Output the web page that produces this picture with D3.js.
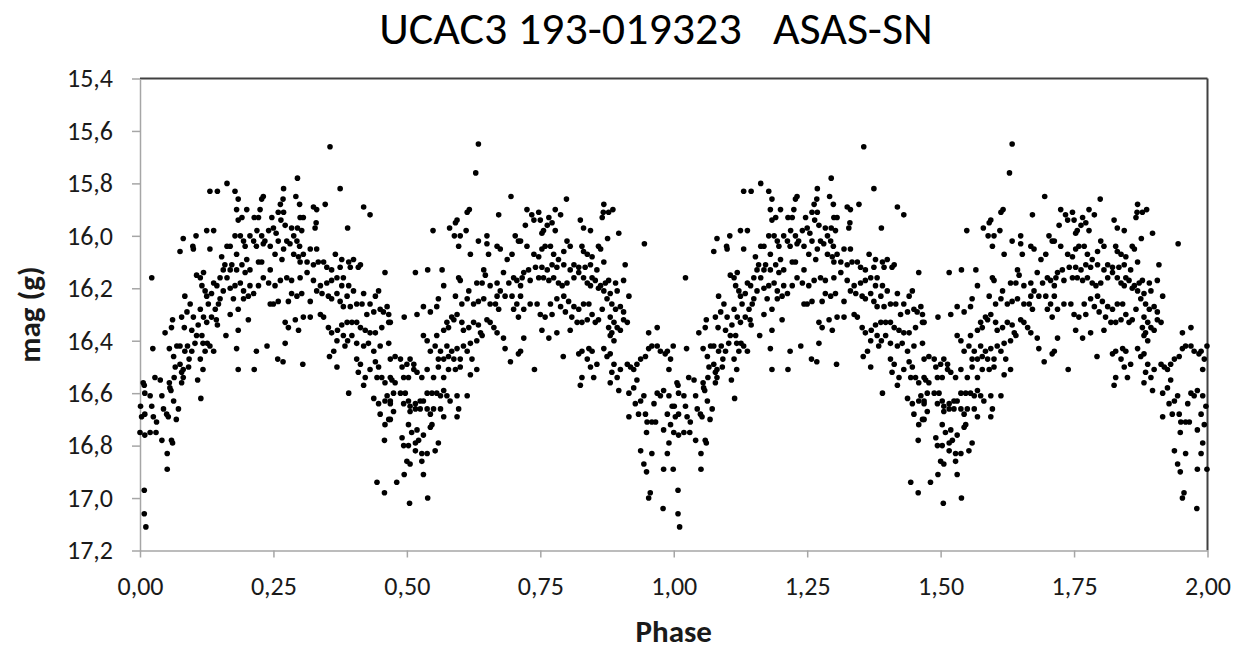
<!DOCTYPE html>
<html>
<head>
<meta charset="utf-8">
<script src="https://cdn.jsdelivr.net/npm/d3@7"></script>
<style>
  body { margin: 0; background: #fff; }
  svg { display: block; }
</style>
</head>
<body>
<div id="chart"></div>
<script>
//chart text
const chartTitle = "UCAC3 193-019323   ASAS-SN";
const xTitle = "Phase";
const yTitle = "mag (g)";

//tick values on both axes
const xTicks = [0, 0.25, 0.5, 0.75, 1, 1.25, 1.5, 1.75, 2];
const yTicks = [15.4, 15.6, 15.8, 16.0, 16.2, 16.4, 16.6, 16.8, 17.0, 17.2];

//the folded light curve is shown twice: phase and phase + 1
const cycles = [0, 1];

const points = [
[0.006,16.56],[0.008,16.57],[0.009,16.60],[0.019,16.61],[0.001,16.65],[0.003,16.69],[0.009,16.68],[0.022,16.65],[0.028,16.54],[0.038,16.55],
[0.041,16.61],[0.025,16.69],[0.031,16.71],[0.000,16.75],[0.009,16.76],[0.019,16.75],[0.030,16.75],[0.041,16.78],[0.044,16.66],[0.050,16.68],
[0.053,16.69],[0.056,16.58],[0.058,16.59],[0.055,16.56],[0.063,16.63],[0.072,16.66],[0.068,16.70],[0.059,16.78],[0.061,16.79],[0.051,16.83],
[0.051,16.89],[0.008,16.97],[0.008,17.06],[0.011,17.11],[0.022,16.16],[0.024,16.43],[0.047,16.37],[0.055,16.43],[0.059,16.35],[0.061,16.32],
[0.063,16.46],[0.064,16.54],[0.066,16.50],[0.069,16.42],[0.075,16.49],[0.078,16.52],[0.081,16.51],[0.091,16.50],[0.092,16.47],[0.081,16.54],
[0.078,16.56],[0.114,16.62],[0.108,16.55],[0.118,16.51],
[0.075,16.06],[0.081,16.01],[0.099,16.04],[0.100,16.05],[0.105,16.00],[0.125,15.98],[0.138,15.98],[0.131,16.05],[0.113,16.16],[0.119,16.14],
[0.106,16.15],[0.116,16.19],[0.122,16.21],[0.125,16.23],[0.128,16.26],[0.134,16.22],[0.138,16.18],[0.144,16.19],[0.150,16.16],[0.147,16.26],
[0.141,16.28],[0.134,16.31],[0.145,16.34],[0.143,16.32],[0.125,16.33],[0.119,16.31],[0.109,16.34],[0.113,16.28],[0.100,16.31],[0.094,16.26],
[0.084,16.23],[0.088,16.29],[0.078,16.31],[0.083,16.35],[0.097,16.36],[0.106,16.38],[0.116,16.38],[0.103,16.41],[0.089,16.42],[0.075,16.42],
[0.084,16.44],[0.097,16.44],[0.113,16.47],[0.126,16.41],[0.131,16.42],[0.138,16.44],[0.122,16.44],[0.118,16.41],
[0.163,15.80],[0.131,15.83],[0.145,15.83],[0.178,15.83],[0.184,15.86],[0.181,15.90],[0.200,15.90],[0.191,15.93],[0.184,15.94],[0.214,15.93],
[0.222,15.93],[0.225,15.90],[0.161,16.38],[0.181,16.43],[0.184,16.51],[0.214,16.51],[0.218,16.44],[0.203,16.32],[0.184,16.36],
[0.153,16.08],[0.163,16.04],[0.169,16.04],[0.172,16.11],[0.178,16.00],[0.181,16.07],[0.188,16.00],[0.194,16.02],[0.197,16.04],[0.206,16.00],
[0.213,16.02],[0.219,15.98],[0.218,16.04],[0.222,16.10],[0.206,16.13],[0.197,16.14],[0.188,16.18],[0.178,16.19],[0.169,16.20],[0.163,16.16],
[0.156,16.13],[0.175,16.24],[0.169,16.30],[0.184,16.28],[0.194,16.24],[0.203,16.23],[0.213,16.22],[0.222,16.19],[0.194,16.21],[0.206,16.19],
[0.156,16.21],[0.150,16.24],[0.159,16.11],[0.169,16.13],[0.181,16.13],[0.191,16.11],[0.200,16.09],
[0.356,15.66],[0.295,15.78],[0.375,15.82],[0.419,15.89],[0.431,15.92],[0.389,15.97],[0.269,15.82],[0.268,15.86],[0.231,15.85],[0.228,15.86],
[0.292,15.85],[0.299,15.88],[0.325,15.89],[0.331,15.90],[0.347,15.88],[0.263,15.88],[0.259,15.91],[0.269,15.91],[0.247,15.93],[0.250,15.97],
[0.264,15.94],[0.255,15.99],[0.241,15.98],[0.234,16.02],[0.228,16.00],[0.272,15.96],[0.284,15.97],[0.295,15.97],[0.303,15.98],[0.300,15.93],
[0.306,15.93],[0.330,15.95],[0.328,15.97],[0.231,16.03],[0.244,16.04],[0.259,16.02],[0.269,16.05],[0.275,16.02],[0.281,16.03],[0.288,16.00],
[0.294,16.02],[0.266,16.09],[0.253,16.07],[0.288,16.07],[0.297,16.08],[0.306,16.07],[0.319,16.05],[0.331,16.05],[0.299,16.04],[0.300,16.10],
[0.313,16.10],[0.325,16.11],[0.334,16.10],[0.344,16.10],[0.350,16.12],[0.359,16.13],[0.366,16.07],[0.378,16.09],[0.391,16.10],[0.400,16.09],
[0.413,16.11],[0.409,16.12],[0.394,16.12],[0.375,16.12],[0.369,16.16],[0.381,16.16],[0.359,16.17],[0.350,16.18],[0.338,16.19],[0.325,16.17],
[0.313,16.14],[0.300,16.16],[0.284,16.17],[0.275,16.16],[0.263,16.17],[0.253,16.19],[0.241,16.18],[0.231,16.16],[0.244,16.13],[0.228,16.10],
[0.250,16.26],[0.259,16.25],[0.244,16.26],[0.284,16.22],[0.278,16.25],[0.294,16.23],[0.303,16.22],[0.319,16.25],[0.331,16.21],[0.341,16.22],
[0.353,16.23],[0.359,16.24],[0.369,16.22],[0.378,16.19],[0.391,16.19],[0.400,16.21],[0.388,16.23],[0.375,16.25],[0.381,16.27],[0.394,16.27],
[0.406,16.26],[0.416,16.26],[0.419,16.22],[0.431,16.26],[0.441,16.23],[0.447,16.21],[0.459,16.14],[0.450,16.28],[0.438,16.29],[0.425,16.30],
[0.456,16.29],[0.463,16.27],[0.466,16.30],[0.272,16.33],[0.278,16.35],[0.297,16.36],[0.291,16.32],[0.306,16.31],[0.319,16.31],[0.338,16.30],
[0.344,16.31],[0.353,16.35],[0.359,16.37],[0.370,16.36],[0.378,16.34],[0.388,16.33],[0.397,16.33],[0.406,16.33],[0.413,16.35],[0.422,16.36],
[0.431,16.37],[0.441,16.37],[0.453,16.35],[0.466,16.33],[0.238,16.42],[0.272,16.41],[0.258,16.47],[0.268,16.48],[0.305,16.49],[0.369,16.40],
[0.381,16.38],[0.389,16.40],[0.384,16.42],[0.397,16.38],[0.406,16.41],[0.419,16.42],[0.428,16.41],[0.438,16.44],[0.450,16.42],[0.466,16.41],
[0.363,16.44],[0.355,16.46],[0.369,16.50],[0.406,16.47],[0.413,16.49],[0.409,16.52],[0.422,16.54],[0.419,16.57],[0.431,16.51],[0.441,16.48],
[0.447,16.50],[0.444,16.54],[0.453,16.54],[0.459,16.56],[0.469,16.54],[0.391,16.60],[0.438,16.62],[0.447,16.64],[0.450,16.68],[0.459,16.63],
[0.463,16.61],[0.469,16.64],[0.459,16.72],[0.466,16.70],[0.458,16.78],[0.444,16.94],[0.458,16.98],
[0.634,15.65],[0.629,15.76],[0.695,15.85],[0.617,15.90],[0.613,15.91],[0.594,15.94],[0.591,15.95],[0.580,15.97],[0.549,15.98],[0.589,16.00],
[0.600,16.00],[0.611,15.98],[0.597,16.04],[0.619,16.07],[0.634,16.02],[0.650,16.00],[0.650,16.03],[0.653,16.07],[0.672,15.92],[0.669,16.04],
[0.675,16.05],[0.688,16.09],[0.697,16.07],[0.703,16.00],[0.709,16.02],[0.516,16.14],[0.539,16.13],[0.566,16.13],[0.569,16.19],[0.591,16.23],
[0.597,16.16],[0.600,16.17],[0.616,16.21],[0.631,16.18],[0.641,16.18],[0.647,16.15],[0.644,16.13],[0.656,16.19],[0.669,16.18],[0.681,16.14],
[0.691,16.18],[0.700,16.16],[0.706,16.17],[0.713,16.19],[0.697,16.23],[0.684,16.23],[0.675,16.21],[0.669,16.23],[0.666,16.26],[0.656,16.26],
[0.644,16.24],[0.634,16.25],[0.625,16.26],[0.613,16.24],[0.603,16.26],[0.594,16.30],[0.584,16.31],[0.575,16.33],[0.559,16.24],[0.556,16.27],
[0.544,16.29],[0.531,16.27],[0.519,16.30],[0.495,16.31],[0.706,16.26],[0.700,16.28],[0.709,16.31],[0.672,16.28],[0.469,16.33],[0.531,16.38],
[0.538,16.40],[0.556,16.38],[0.569,16.36],[0.578,16.35],[0.588,16.32],[0.603,16.33],[0.606,16.36],[0.616,16.35],[0.625,16.33],[0.634,16.34],
[0.638,16.37],[0.650,16.32],[0.656,16.33],[0.663,16.35],[0.669,16.37],[0.641,16.38],[0.631,16.40],[0.619,16.41],[0.606,16.42],[0.594,16.43],
[0.584,16.44],[0.575,16.42],[0.563,16.44],[0.553,16.42],[0.544,16.44],[0.559,16.47],[0.569,16.47],[0.578,16.46],[0.588,16.47],[0.600,16.47],
[0.613,16.44],[0.622,16.47],[0.631,16.51],[0.619,16.53],[0.600,16.50],[0.591,16.51],[0.578,16.51],[0.569,16.54],[0.681,16.39],[0.684,16.43],
[0.694,16.48],[0.709,16.45],[0.478,16.46],[0.488,16.47],[0.491,16.50],[0.500,16.49],[0.506,16.47],[0.513,16.49],[0.494,16.54],[0.503,16.54],
[0.513,16.51],[0.519,16.52],[0.528,16.54],[0.538,16.51],[0.550,16.54],[0.559,16.50],[0.469,16.47],[0.472,16.55],[0.478,16.56],[0.475,16.60],
[0.469,16.63],[0.488,16.60],[0.497,16.60],[0.503,16.63],[0.494,16.64],[0.506,16.65],[0.516,16.64],[0.525,16.63],[0.531,16.63],[0.538,16.60],
[0.547,16.60],[0.556,16.60],[0.563,16.61],[0.569,16.59],[0.575,16.61],[0.581,16.63],[0.594,16.61],[0.613,16.61],[0.506,16.67],[0.516,16.66],
[0.525,16.66],[0.538,16.66],[0.544,16.68],[0.550,16.66],[0.563,16.66],[0.569,16.69],[0.594,16.69],[0.597,16.66],[0.475,16.67],[0.469,16.70],
[0.503,16.72],[0.509,16.75],[0.519,16.74],[0.531,16.76],[0.522,16.78],[0.516,16.79],[0.547,16.72],[0.544,16.73],[0.491,16.77],[0.494,16.80],
[0.503,16.80],[0.516,16.82],[0.528,16.83],[0.538,16.83],[0.553,16.82],[0.559,16.79],[0.500,16.86],[0.506,16.87],[0.528,16.86],[0.495,16.91],
[0.531,16.91],[0.481,16.94],[0.505,17.02],[0.539,17.00],
[0.799,15.86],[0.725,15.90],[0.734,15.92],[0.747,15.91],[0.738,15.94],[0.750,15.94],[0.722,15.96],[0.778,15.90],[0.788,15.92],[0.766,15.93],
[0.772,15.95],[0.763,15.96],[0.756,15.98],[0.753,15.99],[0.778,15.98],[0.825,15.94],[0.831,15.97],[0.844,15.98],[0.869,15.88],[0.868,15.91],
[0.878,15.91],[0.886,15.90],[0.866,15.93],[0.876,16.01],[0.897,15.99],[0.945,16.03],[0.713,16.02],[0.725,16.04],[0.738,16.07],[0.747,16.08],
[0.753,16.05],[0.759,16.04],[0.769,16.04],[0.775,16.07],[0.784,16.09],[0.794,16.06],[0.806,16.04],[0.800,16.02],[0.828,16.04],[0.831,16.06],
[0.838,16.07],[0.847,16.08],[0.859,16.04],[0.863,16.05],[0.869,16.10],[0.856,16.13],[0.844,16.11],[0.834,16.12],[0.822,16.12],[0.813,16.11],
[0.806,16.13],[0.794,16.11],[0.781,16.12],[0.772,16.11],[0.763,16.13],[0.753,16.12],[0.741,16.12],[0.728,16.13],[0.719,16.14],[0.716,16.16],
[0.731,16.17],[0.747,16.16],[0.756,16.16],[0.766,16.17],[0.775,16.16],[0.784,16.18],[0.791,16.19],[0.800,16.18],[0.813,16.16],[0.822,16.14],
[0.831,16.16],[0.838,16.18],[0.847,16.16],[0.853,16.17],[0.863,16.19],[0.872,16.18],[0.878,16.17],[0.891,16.18],[0.894,16.21],[0.881,16.22],
[0.869,16.21],[0.859,16.20],[0.844,16.19],[0.906,16.17],[0.916,16.23],[0.909,16.11],[0.713,16.23],[0.719,16.28],[0.731,16.26],[0.744,16.26],
[0.750,16.30],[0.759,16.31],[0.772,16.30],[0.781,16.24],[0.794,16.23],[0.803,16.25],[0.813,16.27],[0.822,16.28],[0.831,16.26],[0.841,16.26],
[0.847,16.30],[0.838,16.32],[0.828,16.33],[0.819,16.33],[0.809,16.31],[0.797,16.29],[0.788,16.27],[0.769,16.26],[0.866,16.28],[0.875,16.24],
[0.884,16.26],[0.891,16.28],[0.900,16.27],[0.906,16.29],[0.881,16.31],[0.888,16.33],[0.894,16.35],[0.900,16.36],[0.913,16.33],[0.906,16.32],
[0.878,16.35],[0.853,16.33],[0.859,16.32],[0.884,16.37],[0.881,16.38],[0.888,16.40],[0.806,16.36],[0.781,16.37],[0.766,16.39],[0.753,16.36],
[0.719,16.39],[0.713,16.44],[0.793,16.46],[0.739,16.51],[0.822,16.45],[0.828,16.44],[0.841,16.43],[0.847,16.44],[0.838,16.47],[0.844,16.50],
[0.856,16.49],[0.828,16.54],[0.825,16.57],[0.850,16.54],[0.869,16.43],[0.875,16.46],[0.881,16.45],[0.888,16.49],[0.884,16.52],[0.881,16.56],
[0.897,16.59],[0.894,16.54],[0.900,16.51],[0.913,16.49],[0.919,16.50],[0.925,16.51],[0.931,16.49],[0.938,16.47],[0.947,16.46],[0.953,16.43],
[0.959,16.42],[0.969,16.42],[0.975,16.44],[0.984,16.45],[0.999,16.42],[0.953,16.37],[0.969,16.35],[0.988,16.44],[0.994,16.47],[0.991,16.51],
[0.931,16.55],[0.925,16.58],[0.916,16.60],[0.928,16.64],[0.938,16.63],[0.934,16.68],[0.944,16.61],[0.947,16.68],[0.950,16.71],[0.949,16.75],
[0.959,16.71],[0.966,16.71],[0.963,16.64],[0.969,16.60],[0.975,16.61],[0.981,16.59],[0.991,16.61],[0.997,16.65],[0.988,16.68],[0.994,16.72],
[0.981,16.74],[0.916,16.69],[0.938,16.82],[0.959,16.83],[0.944,16.87],[0.949,16.90],[0.981,16.89],[0.999,16.89],[0.988,16.83],[0.991,16.79],
[0.956,16.98],[0.953,17.00],[0.980,17.04]
];

//layout
const width = 1243, height = 650;
const plotLeft = 140, plotRight = 1207.5, plotTop = 78.5, plotBottom = 550.5;
const font = "Carlito, Calibri, 'Open Sans', sans-serif";
const comma = f => d => d3.format(f)(d).replace(".", ",");

const svg = d3.select("#chart")
  .append("svg")
  .attr("width", width)
  .attr("height", height)
  .style("font-family", font);

const x = d3.scaleLinear().domain([0, 2]).range([plotLeft, plotRight]);
const y = d3.scaleLinear().domain([15.4, 17.2]).range([plotTop, plotBottom]);

//frame: dark top and right edges
svg.append("line")
  .attr("x1", plotLeft).attr("x2", plotRight).attr("y1", plotTop).attr("y2", plotTop)
  .attr("stroke", "#404040").attr("stroke-width", 2);
svg.append("line")
  .attr("x1", plotRight).attr("x2", plotRight).attr("y1", plotTop).attr("y2", plotBottom)
  .attr("stroke", "#404040").attr("stroke-width", 2);

//x axis
const xAxis = svg.append("g")
  .attr("transform", `translate(0,${plotBottom})`)
  .call(d3.axisBottom(x).tickValues(xTicks).tickFormat(comma(".2f")).tickSize(7).tickSizeOuter(0));
xAxis.selectAll("text").attr("y", 26).attr("dy", "0.71em");

//y axis
const yAxis = svg.append("g")
  .attr("transform", `translate(${plotLeft},0)`)
  .call(d3.axisLeft(y).tickValues(yTicks).tickFormat(comma(".1f")).tickSize(8).tickPadding(19).tickSizeOuter(0));

svg.selectAll(".domain, .tick line").attr("stroke", "#a6a6a6").attr("stroke-width", 1.5);
svg.selectAll(".tick text")
  .attr("fill", "#1a1a1a")
  .style("font-family", font)
  .style("font-size", "26px");

//dots, one layer per cycle
cycles.forEach(c => {
  svg.append("g")
    .selectAll("circle")
    .data(points)
    .enter()
    .append("circle")
    .attr("cx", d => x(d[0] + c))
    .attr("cy", d => y(d[1]))
    .attr("r", 2.8)
    .attr("fill", "#000");
});

//titles
svg.append("text")
  .attr("x", 656).attr("y", 44)
  .attr("text-anchor", "middle")
  .style("white-space", "pre")
  .style("font-size", "46px")
  .attr("fill", "#000")
  .text(chartTitle);

svg.append("text")
  .attr("x", (plotLeft + plotRight) / 2).attr("y", 642)
  .attr("text-anchor", "middle")
  .style("font-size", "31px")
  .style("font-weight", "bold")
  .attr("fill", "#1a1a1a")
  .text(xTitle);

svg.append("text")
  .attr("transform", `translate(40,${(plotTop + plotBottom) / 2}) rotate(-90)`)
  .attr("text-anchor", "middle")
  .style("font-size", "31px")
  .style("font-weight", "bold")
  .attr("fill", "#1a1a1a")
  .text(yTitle);
</script>
</body>
</html>
